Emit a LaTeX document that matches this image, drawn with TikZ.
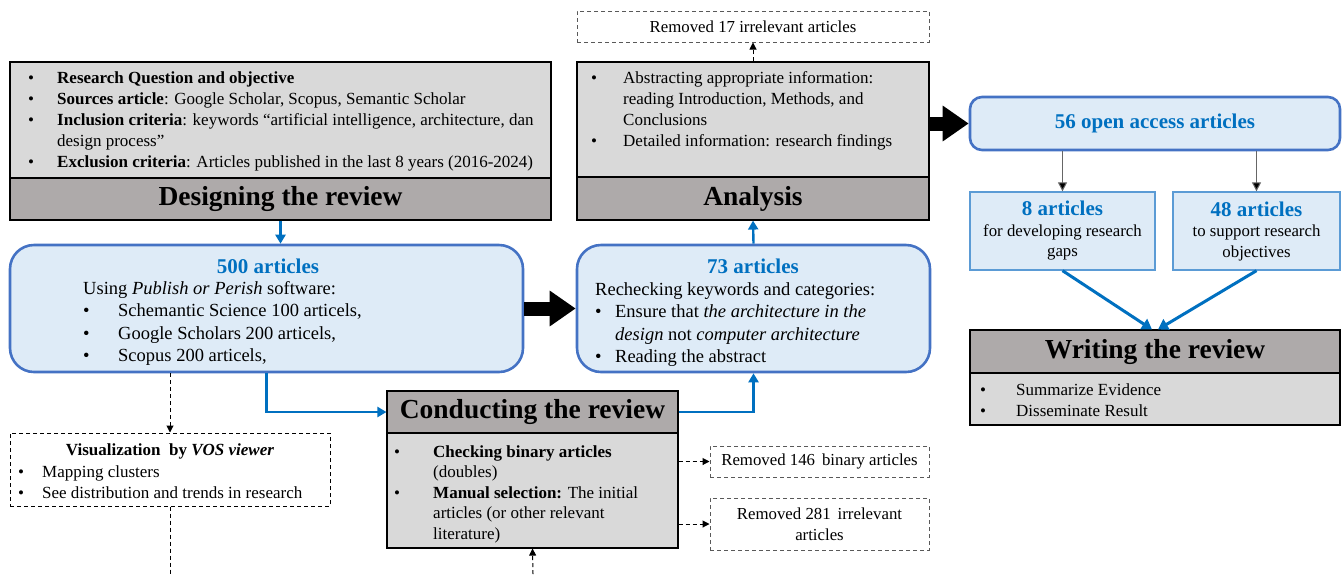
\documentclass[tikz,border=0pt]{standalone}
\usepackage{fontspec}
\setmainfont{Liberation Serif}
\usetikzlibrary{arrows.meta,calc}

\definecolor{panelgray}{HTML}{D9D9D9}
\definecolor{headgray}{HTML}{AEAAAA}
\definecolor{paleblue}{HTML}{DEEBF7}
\definecolor{edgeblue}{HTML}{4472C4}
\definecolor{inkblue}{HTML}{0070C0}
\definecolor{cellblue}{HTML}{5B9BD5}
\definecolor{dashgray}{HTML}{595959}

% bullet list: bullet column of width #1, then text lines
\newcommand{\blist}[2]{\begin{tabular}[t]{@{}p{#1}@{}l@{}}#2\end{tabular}}
\newcommand{\bl}{\textbullet}

\tikzset{
  body/.style={font=\fontsize{17}{21}\selectfont},
  bodyw/.style={font=\fontsize{18.5}{22.5}\selectfont},
  panel/.style={draw=black, line width=1.1pt, fill=panelgray, inner sep=0pt},
  header/.style={draw=black, line width=1.1pt, fill=headgray, inner sep=0pt,
    font=\fontsize{27.5}{31}\selectfont\bfseries},
  roundbox/.style={draw=edgeblue, line width=2.6pt, fill=paleblue, inner sep=0pt, rounded corners=24pt},
  smallround/.style={draw=edgeblue, line width=2.6pt, fill=paleblue, inner sep=0pt, rounded corners=12pt},
  cell/.style={draw=cellblue, line width=1.3pt, fill=paleblue, inner sep=0pt, align=center,
    font=\fontsize{16.8}{20.5}\selectfont},
  dashbox/.style={draw=dashgray, line width=1pt, dash pattern=on 4pt off 3pt, inner sep=0pt,
    align=center, font=\fontsize{16.8}{21}\selectfont},
  visbox/.style={draw=black, line width=1pt, dash pattern=on 4pt off 3pt, inner sep=0pt},
  txt/.style={anchor=base west, inner sep=0pt, align=left},
  title/.style={inner sep=0pt, font=\fontsize{21}{24}\selectfont\bfseries, text=inkblue},
  bluearrow/.style={draw=inkblue, line width=2.4pt, -{Triangle[length=9pt,width=10pt]}},
  bluethick/.style={draw=inkblue, line width=3pt, -{Triangle[length=10pt,width=12pt]}},
  bigarrow/.style={draw=black, line width=14pt, -{Triangle[length=26pt,width=34pt]}},
  thinarrow/.style={draw=gray!80!black, line width=1pt, -{Triangle[length=9pt,width=9pt,fill=black]}},
  dasharrow/.style={draw=black, line width=1pt, dash pattern=on 4pt off 3pt, -{Triangle[length=7pt,width=7pt]}},
  dashline/.style={draw=black, line width=1pt, dash pattern=on 4pt off 3pt},
}

\begin{document}
\begin{tikzpicture}[x=1pt,y=-1pt]
\useasboundingbox (0,0) rectangle (1343,574);

% ---------- Designing the review ----------
\node[panel, minimum width=541pt, minimum height=116pt] (design) at (280.5,120) {};
\node[header, minimum width=541pt, minimum height=42pt] (designhead) at (280.5,199) {Designing the review};
\node[txt, body] (designtxt) at (28,83) {\blist{29pt}{%
  \bl & \textbf{Research Question and objective}\\
  \bl & \textbf{Sources article}: Google Scholar, Scopus, Semantic Scholar\\
  \bl & \textbf{Inclusion criteria}: keywords “artificial intelligence, architecture, dan\\
      & design process”\\
  \bl & \textbf{Exclusion criteria}: Articles published in the last 8 years (2016-2024)}};

% ---------- 500 articles ----------
\node[roundbox, minimum width=513pt, minimum height=127pt] (a500) at (266.5,308.5) {};
\node[title] (a500title) at (268,266) {500 articles};
\node[txt, bodyw] (a500txt) at (83,294) {\blist{35pt}{%
  \multicolumn{2}{@{}l@{}}{Using \textit{Publish or Perish} software:}\\
  \bl & Schemantic Science 100 articels,\\
  \bl & Google Scholars 200 articels,\\
  \bl & Scopus 200 articels,}};

% ---------- Analysis ----------
\node[panel, minimum width=352pt, minimum height=115pt] (analysis) at (753,119.5) {};
\node[header, minimum width=352pt, minimum height=43pt] (analysishead) at (753,198.5) {Analysis};
\node[txt, body] (analysistxt) at (591,83) {\blist{32pt}{%
  \bl & Abstracting appropriate information:\\
      & reading Introduction, Methods, and\\
      & Conclusions\\
  \bl & Detailed information: research findings}};
\node[dashbox, minimum width=352pt, minimum height=31pt] (removed17) at (753,26.5) {Removed 17 irrelevant articles};

% ---------- 73 articles ----------
\node[roundbox, minimum width=353pt, minimum height=127pt] (a73) at (753.5,308.5) {};
\node[title] (a73title) at (753,266) {73 articles};
\node[txt, bodyw] (a73txt) at (595,295) {\blist{20pt}{%
  \multicolumn{2}{@{}l@{}}{Rechecking keywords and categories:}\\
  \bl & Ensure that \textit{the architecture in the}\\
      & \textit{design} not \textit{computer architecture}\\
  \bl & Reading the abstract}};

% ---------- 56 open access articles ----------
\node[smallround, minimum width=370pt, minimum height=53pt, title] (a56) at (1155,123.5) {56 open access articles};
\node[cell, minimum width=185pt, minimum height=78pt] (a8) at (1062.5,231)
  {{\fontsize{21}{23}\selectfont\bfseries\color{inkblue}8 articles}\\for developing research\\gaps};
\node[cell, minimum width=167pt, minimum height=78pt] (a48) at (1256.5,231)
  {{\fontsize{21}{23}\selectfont\bfseries\color{inkblue}48 articles}\\to support research\\objectives};

% ---------- Writing the review ----------
\node[header, minimum width=370pt, minimum height=43pt] (writehead) at (1155,351.5) {Writing the review};
\node[panel, minimum width=370pt, minimum height=52pt] (write) at (1155,399) {};
\node[txt, body] (writetxt) at (980,395) {\blist{36pt}{%
  \bl & Summarize Evidence\\
  \bl & Disseminate Result}};

% ---------- Conducting the review ----------
\node[header, minimum width=291pt, minimum height=42pt] (condhead) at (532.5,412) {Conducting the review};
\node[panel, minimum width=291pt, minimum height=115pt] (cond) at (532.5,490.5) {};
\node[txt, font=\fontsize{17}{20.5}\selectfont] (condtxt) at (394,457) {\blist{39pt}{%
  \bl & \textbf{Checking binary articles}\\
      & (doubles)\\
  \bl & \textbf{Manual selection:} The initial\\
      & articles (or other relevant\\
      & literature)}};
\node[dashbox, minimum width=219pt, minimum height=31pt] (rem146) at (819.5,461.5) {Removed 146 \,binary articles};
\node[dashbox, minimum width=219pt, minimum height=52pt] (rem281) at (819.5,524) {Removed 281 \,irrelevant\\articles};

% ---------- Visualization ----------
\node[visbox, minimum width=320pt, minimum height=73pt] (vis) at (170,469.5) {};
\node[inner sep=0pt, font=\fontsize{17}{21}\selectfont\bfseries] (vistitle) at (170,451) {Visualization \ by \textit{VOS viewer}};
\node[txt, body] (vistxt) at (18,477) {\blist{24pt}{%
  \bl & Mapping clusters\\
  \bl & See distribution and trends in research}};

% ---------- connectors ----------
\coordinate (condfeed) at (533,574);
\draw[bluearrow] (designhead.south) -- (designhead.south |- a500.north);
\draw[bigarrow] (a500.east) -- (a73.west);
\draw[bluearrow] (a73.north) -- (analysishead.south);
\draw[dasharrow] (analysis.north) -- (removed17.south);
\draw[bigarrow] (analysis.east |- a56.west) -- (a56.west);
\draw[thinarrow] (a56.south -| a8.north) -- (a8.north);
\draw[thinarrow] (a56.south -| a48.north) -- (a48.north);
\draw[bluethick] (a8.south) -- ($(writehead.north)+(-3,0)$);
\draw[bluethick] (a48.south) -- ($(writehead.north)+(3,0)$);
\draw[bluearrow] (a500.south) |- (condhead.west);
\draw[bluearrow] (condhead.east) -| (a73.south);
\draw[dasharrow] (cond.east |- rem146.west) -- (rem146.west);
\draw[dasharrow] (cond.east |- rem281.west) -- (rem281.west);
\draw[dasharrow] (condfeed) -- (cond.south);
\draw[dasharrow] (a500.south -| vis.north) -- (vis.north);
\draw[dashline] (vis.south) -- (vis.south |- condfeed);
\end{tikzpicture}
\end{document}
